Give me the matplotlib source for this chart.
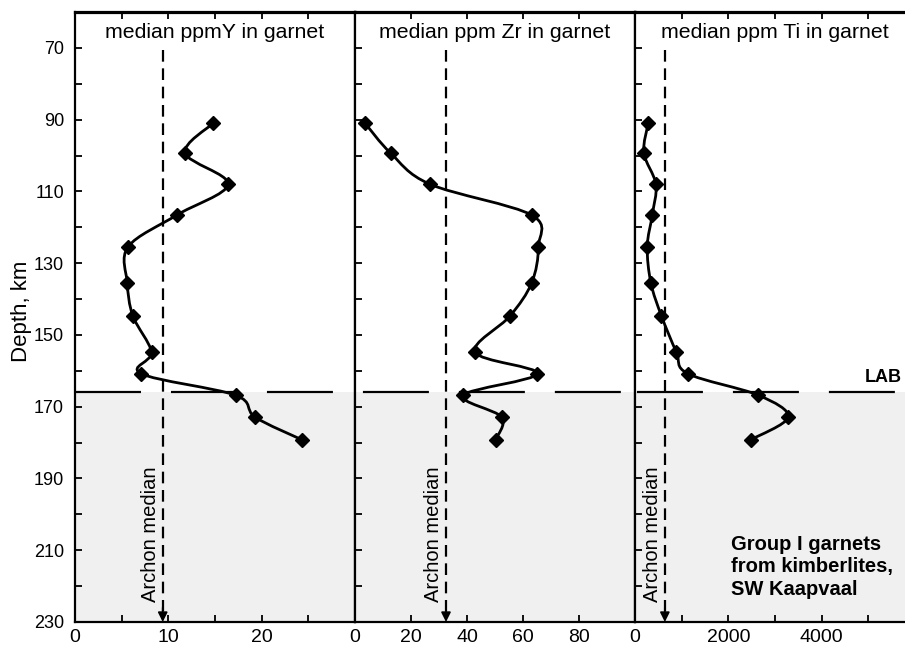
import matplotlib
matplotlib.use("Agg")
from matplotlib import pyplot as plt
from matplotlib.path import Path
from matplotlib.patches import PathPatch

plt.rcParams['font.family'] = ['Liberation Sans', 'DejaVu Sans']
plt.rcParams['lines.scale_dashes'] = False

# depth of each sample, km
depth = [91, 99.3, 108, 116.6, 125.4, 135.5, 144.7, 154.8, 160.8, 166.8, 172.9, 179.2]

ppm_y = [14.8, 11.8, 16.4, 10.9, 5.7, 5.6, 6.2, 8.2, 7.1, 17.2, 19.3, 24.3]
ppm_zr = [3.6, 12.7, 26.8, 63.1, 65.5, 63.1, 55.4, 42.9, 65.1, 38.7, 52.4, 50.2]
ppm_ti = [283, 191, 447, 369, 262, 340, 567, 887, 1135, 2645, 3283, 2482]

titles = ["median ppmY in garnet", "median ppm Zr in garnet", "median ppm Ti in garnet"]
archon_median = [9.4, 32.5, 640]
lab_depth = 166

x_limits = [(0, 30), (0, 100), (0, 6000)]
x_major = [[0, 10, 20], [0, 20, 40, 60, 80], [0, 2000, 4000]]
x_minor = [[5, 15, 25], [], [1000, 3000, 5000]]
y_labels = [70, 90, 110, 130, 150, 170, 190, 210, 230]
y_minor = [60, 80, 100, 120, 140, 160, 180, 200, 220]


def smooth_path(xs, ys):
    # catmull-rom through the points, drawn as bezier segments
    pts = list(zip(xs, ys))
    ext = [pts[0]] + pts + [pts[-1]]
    verts = [pts[0]]
    codes = [Path.MOVETO]
    for i in range(1, len(ext) - 2):
        p0, p1, p2, p3 = ext[i - 1], ext[i], ext[i + 1], ext[i + 2]
        c1 = (p1[0] + (p2[0] - p0[0]) / 6, p1[1] + (p2[1] - p0[1]) / 6)
        c2 = (p2[0] - (p3[0] - p1[0]) / 6, p2[1] - (p3[1] - p1[1]) / 6)
        verts += [c1, c2, p2]
        codes += [Path.CURVE4] * 3
    return Path(verts, codes)


W, H = 905, 646
fig = plt.figure(figsize=(W / 100, H / 100), dpi=100)

left_px = [75, 355, 635]
panel_w = 280
bottom, top = 24, 634
series = [ppm_y, ppm_zr, ppm_ti]
lab_offsets = [0, 63.4, 67.7]

for i in range(3):
    ax = fig.add_axes([left_px[i] / W, bottom / H, panel_w / W, (top - bottom) / H])
    ax.set_xlim(*x_limits[i])
    ax.set_ylim(230, 60)

    ax.axhspan(lab_depth, 230, color='#f0f0f0', lw=0, zorder=0)
    ax.axhline(lab_depth, color='k', lw=1.6,
               linestyle=(lab_offsets[i], (47.5, 21.6)), zorder=1)

    # archon median line with arrow
    ax.plot([archon_median[i]] * 2, [70.5, 227], color='k', lw=1.6,
            linestyle=(0, (8.4, 4.8)), zorder=2)
    ax.annotate('', xy=(archon_median[i], 230), xytext=(archon_median[i], 226),
                arrowprops=dict(arrowstyle='-|>', color='k', lw=1.3,
                                mutation_scale=14, shrinkA=0, shrinkB=0))
    ax.annotate('Archon median', xy=(archon_median[i], 224.4), xytext=(-9, 0),
                textcoords='offset points', rotation=90, ha='center', va='bottom',
                fontsize=14.5)

    ax.add_patch(PathPatch(smooth_path(series[i], depth), fill=False,
                           lw=2, edgecolor='k', zorder=3))
    ax.plot(series[i], depth, 'D', color='k', ms=7.5, zorder=4)

    ax.text(0.5, 0.967, titles[i], transform=ax.transAxes, ha='center',
            va='center', fontsize=15.3)

    ax.set_xticks(x_major[i])
    ax.set_xticks(x_minor[i], minor=True)
    ax.tick_params(axis='x', which='both', direction='in', top=True, bottom=True,
                   length=5, width=1.3, labelsize=14, pad=5)
    ax.set_yticks(y_labels)
    ax.set_yticks(y_minor, minor=True)
    if i == 0:
        ax.tick_params(axis='y', which='both', direction='in', left=True, right=False,
                       length=5, width=1.3, labelsize=13, pad=8)
        ax.set_ylabel('Depth, km', fontsize=16)
        ax.yaxis.set_label_coords(-0.152, 0.51)
    else:
        ax.tick_params(axis='y', which='both', direction='in', left=True, right=False,
                       length=5, width=1.3, labelleft=False)
    for s in ax.spines.values():
        s.set_linewidth(1.6)
    ax.spines['top'].set_linewidth(2.3)

    if i == 2:
        ax.text(5720, 162, 'LAB', ha='right', va='center', fontsize=13,
                fontweight='bold')
        ax.text(2064, 214.6, 'Group I garnets\nfrom kimberlites,\nSW Kaapvaal',
                ha='left', va='center', fontsize=14.5, fontweight='bold',
                linespacing=1.22)

fig.savefig('out.png', dpi=100)
